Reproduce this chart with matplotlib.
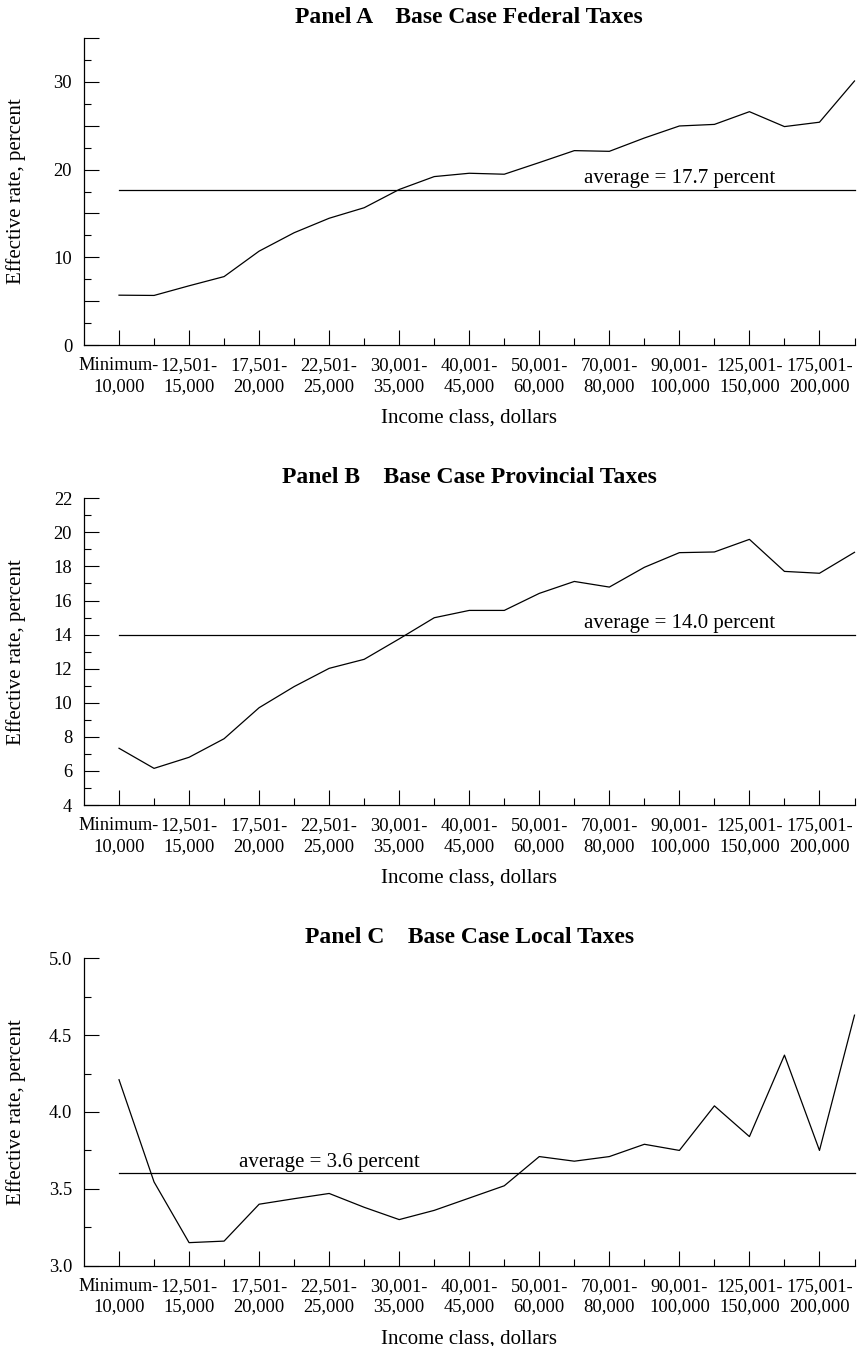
import matplotlib
matplotlib.use("Agg")
import matplotlib.pyplot as plt
from matplotlib.ticker import MultipleLocator, FuncFormatter, FixedLocator

plt.rcParams['font.family'] = ['Liberation Serif', 'DejaVu Serif']

income_classes = [
    "Minimum-\n10,000", "10,001-\n12,500", "12,501-\n15,000", "15,001-\n17,500",
    "17,501-\n20,000", "20,001-\n22,500", "22,501-\n25,000", "25,001-\n30,000",
    "30,001-\n35,000", "35,001-\n40,000", "40,001-\n45,000", "45,001-\n50,000",
    "50,001-\n60,000", "60,001-\n70,000", "70,001-\n80,000", "80,001-\n90,000",
    "90,001-\n100,000", "100,001-\n125,000", "125,001-\n150,000", "150,001-\n175,000",
    "175,001-\n200,000", "200,001+",
]

federal = [5.68, 5.65, 6.75, 7.8, 10.7, 12.8, 14.45, 15.65, 17.73, 19.2, 19.58,
           19.47, 20.8, 22.16, 22.08, 23.6, 24.97, 25.15, 26.6, 24.9, 25.4, 30.1]
provincial = [7.33, 6.15, 6.8, 7.89, 9.71, 10.95, 12.02, 12.55, 13.75, 14.99, 15.42,
              15.42, 16.42, 17.12, 16.79, 17.95, 18.81, 18.85, 19.59, 17.71, 17.6, 18.83]
local = [4.21, 3.545, 3.15, 3.16, 3.40, 3.436, 3.47, 3.38, 3.30, 3.36, 3.44,
         3.52, 3.71, 3.68, 3.71, 3.79, 3.75, 4.04, 3.84, 4.37, 3.75, 4.63]

averages = [17.7, 14.0, 3.6]
titles = ["Panel A    Base Case Federal Taxes",
          "Panel B    Base Case Provincial Taxes",
          "Panel C    Base Case Local Taxes"]
avg_labels = ["average = 17.7 percent", "average = 14.0 percent", "average = 3.6 percent"]

W, H = 857, 1346
fig = plt.figure(figsize=(W / 100, H / 100), dpi=100)

panels = [
    dict(data=federal, top=38, bottom=345, ylim=(0, 35), major=5, minor=2.5,
         fmt=lambda v, p: f"{int(round(v))}" if round(v) % 10 == 0 else "", avg_x=16.0),
    dict(data=provincial, top=498.3, bottom=805, ylim=(4, 22), major=2, minor=1,
         fmt=lambda v, p: f"{int(round(v))}", avg_x=16.0),
    dict(data=local, top=958.3, bottom=1265.7, ylim=(3.0, 5.0), major=0.5, minor=0.25,
         fmt=lambda v, p: f"{v:.1f}", avg_x=6.0),
]

left_px, right_px = 84, 854.5
x = list(range(len(income_classes)))

for i, pnl in enumerate(panels):
    ax = fig.add_axes([left_px / W, 1 - pnl['bottom'] / H,
                       (right_px - left_px) / W, (pnl['bottom'] - pnl['top']) / H])
    ax.plot(x, pnl['data'], color='black', lw=0.9, clip_on=False)
    ax.plot([x[0], x[-1]], [averages[i], averages[i]], color='black', lw=0.9, clip_on=False)
    ax.annotate(avg_labels[i], xy=(pnl['avg_x'], averages[i]), xytext=(0, 4.5),
                textcoords='offset points', ha='center', va='baseline', fontsize=15)
    ax.set_xlim(-1, 21)
    ax.set_ylim(*pnl['ylim'])
    for s in ['top', 'right']:
        ax.spines[s].set_visible(False)
    for s in ['left', 'bottom']:
        ax.spines[s].set_linewidth(0.9)
    ax.xaxis.set_major_locator(FixedLocator(x[0::2]))
    ax.xaxis.set_minor_locator(FixedLocator(x[1::2]))
    ax.set_xticklabels(income_classes[0::2], fontsize=13.3, linespacing=1.25)
    ax.yaxis.set_major_locator(MultipleLocator(pnl['major']))
    ax.yaxis.set_minor_locator(MultipleLocator(pnl['minor']))
    ax.yaxis.set_major_formatter(FuncFormatter(pnl['fmt']))
    ax.tick_params(axis='both', which='major', direction='in', length=11, width=0.8,
                   labelsize=13.3, color='black')
    ax.tick_params(axis='both', which='minor', direction='in', length=5.3, width=0.8,
                   color='black')
    ax.tick_params(axis='y', which='major', pad=8.5)
    ax.tick_params(axis='x', which='major', pad=9)
    ax.set_title(titles[i], fontsize=17, fontweight='bold', pad=11)
    ax.annotate("Income class, dollars", xy=(0.5, 0), xycoords='axes fraction',
                xytext=(0, -52.5), textcoords='offset points', ha='center', va='center',
                fontsize=15)
    fig.text(16 / W, 1 - (pnl['top'] + pnl['bottom']) / 2 / H, "Effective rate, percent",
             rotation=90, ha='center', va='center', fontsize=15)

fig.savefig("out.png", dpi=100)
